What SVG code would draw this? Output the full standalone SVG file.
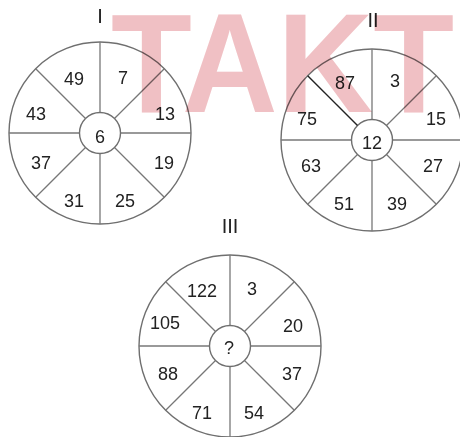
<svg xmlns="http://www.w3.org/2000/svg" xmlns:xlink="http://www.w3.org/1999/xlink" width="460" height="437" viewBox="0 0 460 437">
<style>
.rim{fill:none;stroke:#6f6f6f;stroke-width:1.4}
.hub{fill:#fff;stroke:#6f6f6f;stroke-width:1.4}
.spoke{stroke:#777;stroke-width:1.3}
.num{font-family:"Liberation Sans",Arial,sans-serif;font-size:18px;fill:#222;text-anchor:middle}
.title{font-family:"Liberation Sans",Arial,sans-serif;font-size:20px;fill:#222;text-anchor:middle}
.wm{font-family:"Liberation Sans",Arial,sans-serif;font-weight:bold;font-size:141px;fill:#f0c0c4;mix-blend-mode:multiply}
</style>
<defs>
<g id="wheel">
<circle class="rim" r="91"/>
<line class="spoke" x1="0" y1="-20.5" x2="0" y2="-91"/>
<line class="spoke" x1="0" y1="20.5" x2="0" y2="91"/>
<line class="spoke" x1="-20.5" y1="0" x2="-91" y2="0"/>
<line class="spoke" x1="20.5" y1="0" x2="91" y2="0"/>
<line class="spoke" x1="14.5" y1="-14.5" x2="64.3" y2="-64.3"/>
<line class="spoke" x1="14.5" y1="14.5" x2="64.3" y2="64.3"/>
<line class="spoke" x1="-14.5" y1="14.5" x2="-64.3" y2="64.3"/>
<circle class="hub" r="20.5"/>
</g>
</defs>
<rect width="460" height="437" fill="#fff"/>

<g id="wheel-I" transform="translate(100,133)">
<use xlink:href="#wheel"/>
<line class="spoke" x1="-14.5" y1="-14.5" x2="-64.3" y2="-64.3"/>
<text class="title" x="0" y="-110">I</text>
<text class="num" x="-26" y="-48.5">49</text>
<text class="num" x="23" y="-49.5">7</text>
<text class="num" x="65" y="-13.5">13</text>
<text class="num" x="-64" y="-13.5">43</text>
<text class="num" x="0" y="9.5">6</text>
<text class="num" x="-59" y="35.5">37</text>
<text class="num" x="64" y="35.5">19</text>
<text class="num" x="-26" y="73.5">31</text>
<text class="num" x="25" y="73.5">25</text>
</g>

<g id="wheel-II" transform="translate(372,140)">
<use xlink:href="#wheel"/>
<line x1="-14.5" y1="-14.5" x2="-64.3" y2="-64.3" stroke="#222" stroke-width="1.4"/>
<text class="title" x="1" y="-113">II</text>
<text class="num" x="-27" y="-51.5">87</text>
<text class="num" x="23" y="-53.5">3</text>
<text class="num" x="-65" y="-15.5">75</text>
<text class="num" x="64" y="-15.5">15</text>
<text class="num" x="0" y="8.5">12</text>
<text class="num" x="-61" y="31.5">63</text>
<text class="num" x="61" y="31.5">27</text>
<text class="num" x="-28" y="69.5">51</text>
<text class="num" x="25" y="69.5">39</text>
</g>

<g id="wheel-III" transform="translate(230,346)">
<use xlink:href="#wheel"/>
<line class="spoke" x1="-14.5" y1="-14.5" x2="-64.3" y2="-64.3"/>
<text class="title" x="0" y="-113">III</text>
<text class="num" x="-28" y="-49.5">122</text>
<text class="num" x="22" y="-51.5">3</text>
<text class="num" x="-65" y="-17.5">105</text>
<text class="num" x="63" y="-14.5">20</text>
<text class="num" x="-1" y="7.5">?</text>
<text class="num" x="-62" y="33.5">88</text>
<text class="num" x="62" y="33.5">37</text>
<text class="num" x="-28" y="72.5">71</text>
<text class="num" x="24" y="72.5">54</text>
</g>

<text id="watermark" class="wm" x="111" y="112" textLength="343" lengthAdjust="spacingAndGlyphs">TAKT</text>
</svg>
